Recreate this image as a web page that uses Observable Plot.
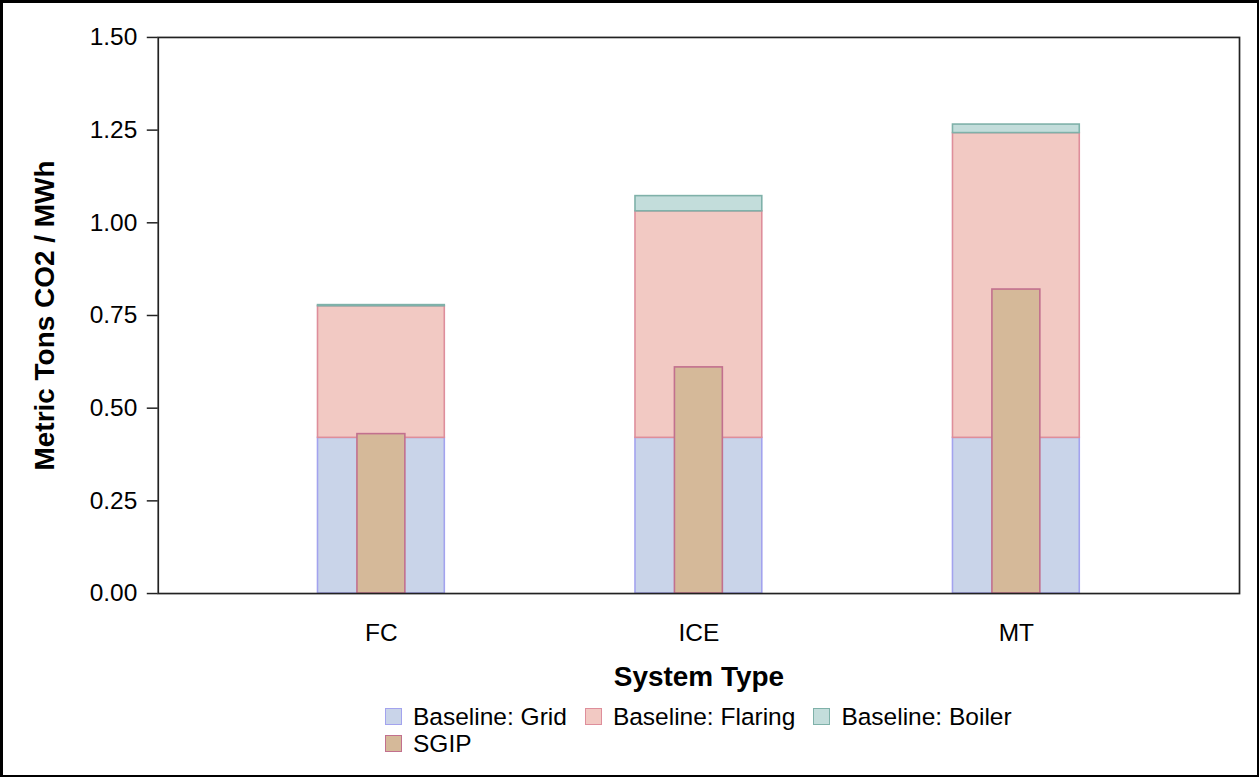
<!DOCTYPE html>
<html>
<head>
<meta charset="utf-8">
<script src="https://cdn.jsdelivr.net/npm/d3@7"></script>
<script src="https://cdn.jsdelivr.net/npm/@observablehq/plot@0.6"></script>
<style>
  html, body { margin: 0; padding: 0; background: #fff; }
  #wrap { position: relative; width: 1259px; height: 777px; box-sizing: border-box;
          border-left: 3px solid #000; border-top: 3px solid #000; border-right: 2px solid #000; border-bottom: 2px solid #000;
          font-family: "Liberation Sans", Arial, sans-serif; overflow: hidden; }
  #chart { position: absolute; left: -3px; top: -3px; }
  #legend { position: absolute; left: 382px; top: 700px; width: 680px; display: flex; flex-wrap: wrap;
            font-size: 24.5px; color: #000; }
  .item { display: flex; align-items: center; margin-right: 18px; height: 27px; }
  .sw { width: 17px; height: 17px; box-sizing: border-box; border: 1px solid; margin-right: 11px; }
</style>
</head>
<body>
<div id="wrap"><div id="chart"></div><div id="legend"></div></div>
<script>
// Data
const systemTypes = ["FC", "ICE", "MT"];
const baselineSeries = ["Baseline: Grid", "Baseline: Flaring", "Baseline: Boiler"];
const gridValues = [0.42, 0.42, 0.42];
const flaringValues = [0.355, 0.611, 0.822];
const boilerValues = [0.003, 0.041, 0.023];
const sgipValues = [0.43, 0.61, 0.82];
const yTicks = [0, 0.25, 0.5, 0.75, 1.0, 1.25, 1.5];

// Styles
const fillOf = {
  "Baseline: Grid": "#c9d4e9",
  "Baseline: Flaring": "#f2c9c3",
  "Baseline: Boiler": "#c3dddb",
  "SGIP": "#d5b999"
};
const strokeOf = {
  "Baseline: Grid": "#a3a3ee",
  "Baseline: Flaring": "#de8e9b",
  "Baseline: Boiler": "#7fb1a9",
  "SGIP": "#c2708e"
};

const seriesValues = [gridValues, flaringValues, boilerValues];
const stacked = [];
baselineSeries.forEach((s, si) => {
  systemTypes.forEach((t, ti) => stacked.push({type: t, series: s, value: seriesValues[si][ti]}));
});
const sgip = systemTypes.map((t, i) => ({type: t, series: "SGIP", value: sgipValues[i]}));

const W = 1259, H = 700;
const chart = Plot.plot({
  width: W, height: H,
  marginLeft: 158, marginRight: 18, marginTop: 37, marginBottom: H - 594,
  style: {fontFamily: "Liberation Sans, Arial, sans-serif", color: "#000", background: "transparent"},
  x: {type: "band", domain: systemTypes, paddingInner: 0.6, paddingOuter: 0.5, label: null},
  y: {domain: [0, 1.5], label: null},
  marks: [
    Plot.barY(stacked, Plot.stackY({
      x: "type", y: "value", order: baselineSeries,
      fill: d => fillOf[d.series], stroke: d => strokeOf[d.series], strokeWidth: 1.6
    })),
    Plot.barY(sgip, {
      x: "type", y: "value", insetLeft: 39.5, insetRight: 39.5,
      fill: d => fillOf[d.series], stroke: d => strokeOf[d.series], strokeWidth: 1.6
    }),
    Plot.axisY({ticks: yTicks, tickFormat: d3.format(".2f"), tickSize: 11, tickPadding: 10,
                fontSize: 24.5, stroke: "#222", strokeWidth: 1.5, label: null}),
    Plot.axisX({tickSize: 0, tickPadding: 30, fontSize: 24.5, label: null}),
    Plot.frame({stroke: "#222", strokeWidth: 1.7}),
    Plot.text(["System Type"], {frameAnchor: "bottom", dy: 93, fontSize: 28, fontWeight: "bold", fill: "#000"}),
    Plot.text(["Metric Tons CO2 / MWh"], {frameAnchor: "left", textAnchor: "middle", dx: -113, rotate: -90, fontSize: 28, fontWeight: "bold", fill: "#000"})
  ]
});
document.getElementById("chart").appendChild(chart);

// Legend
const legend = document.getElementById("legend");
[...baselineSeries, "SGIP"].forEach(s => {
  const item = document.createElement("div");
  item.className = "item";
  const sw = document.createElement("div");
  sw.className = "sw";
  sw.style.background = fillOf[s];
  sw.style.borderColor = strokeOf[s];
  const lab = document.createElement("span");
  lab.textContent = s;
  item.appendChild(sw); item.appendChild(lab);
  legend.appendChild(item);
});
</script>
</body>
</html>
